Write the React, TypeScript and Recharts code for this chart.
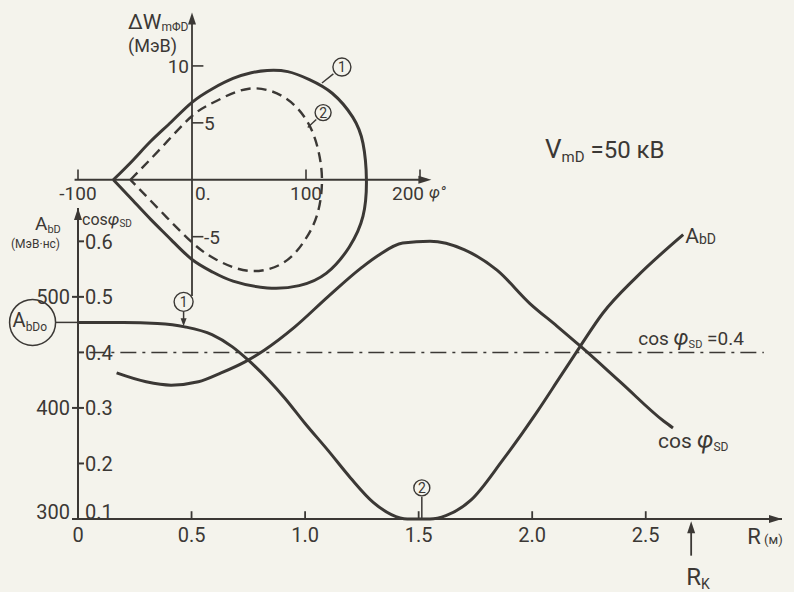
import React from 'react';
import {
  ComposedChart,
  LineChart,
  Line,
  XAxis,
  YAxis,
  ReferenceLine,
  ReferenceDot,
} from 'recharts';

const INK = '#3b3835';
const PAPER = '#f4f3ec';
const FONT = 'Roboto, "DejaVu Sans", Arial, sans-serif';

// A_bD (МэВ·нс) along the radius R (м)
const abdR = [0, 0.2, 0.35, 0.47, 0.59, 0.68, 0.75, 0.84, 0.91, 1.0, 1.1, 1.2, 1.3, 1.38, 1.45, 1.55, 1.62, 1.73, 1.87, 2.02, 2.12, 2.21, 2.31, 2.46, 2.665];
const abdVal = [477, 477, 476, 473, 466, 455, 443, 425, 409, 386, 362, 337, 315, 304, 300, 300, 303, 317, 353, 396, 427, 455, 485, 518, 556];

// cos φ_SD along the radius
const cosR = [0.17, 0.3, 0.41, 0.53, 0.63, 0.735, 0.82, 0.955, 1.1, 1.25, 1.32, 1.43, 1.55, 1.7, 1.845, 1.99, 2.11, 2.21, 2.39, 2.58, 2.62];
const cosVal = [0.363, 0.347, 0.341, 0.347, 0.363, 0.383, 0.404, 0.446, 0.5, 0.553, 0.574, 0.597, 0.6, 0.585, 0.548, 0.488, 0.447, 0.412, 0.346, 0.276, 0.264];

const rTicks = [0, 0.5, 1, 1.5, 2, 2.5];
const aTicks = [300, 400, 500];
const cosTicks = [0.1, 0.2, 0.3, 0.4, 0.5, 0.6];
const cosLevel = 0.4;
const aBdo = 477;
const rK = 2.7;

// phase plane loops ΔW (МэВ) vs φ (deg), traced from the left tip clockwise
const loop1Phi = [-69, -52, -36, -18, 0, 18, 36, 52, 66, 84, 103, 123, 141, 150, 153, 150, 138, 118, 94, 66, 36, 18, 0, -18, -36, -52, -69];
const loop1Dw = [0, 1.7, 3.4, 5.1, 6.8, 8.0, 8.9, 9.4, 9.6, 9.5, 8.8, 7.6, 5.5, 3.2, 0, -3.2, -5.9, -8.2, -9.3, -9.5, -8.9, -8.1, -7.0, -5.3, -3.5, -1.8, 0];
const loop2Phi = [-54, -27, 0, 21, 50, 80, 100, 110, 114, 110, 99, 80, 50, 21, 0, -27, -54];
const loop2Dw = [0, 2.8, 5.6, 6.9, 8.0, 7.3, 5.3, 2.9, 0, -3.0, -5.3, -7.3, -8.0, -7.0, -5.5, -2.8, 0];

const phiTicks = [-100, 100, 200];
const phiLabels = ['-100', '100', '200'];
const dwTicks = [10, 5, -5];
const dwLabels = ['10', '5', '-5'];

const abdData = abdR.map((r, i) => ({ r, a: abdVal[i] }));
const cosData = cosR.map((r, i) => ({ r, c: cosVal[i] }));
const loop1 = loop1Phi.map((phi, i) => ({ phi, dw: loop1Dw[i] }));
const loop2 = loop2Phi.map((phi, i) => ({ phi, dw: loop2Dw[i] }));

type NoteOpts = { anchor?: string; size?: number; italic?: boolean };

function note(content: React.ReactNode, dx: number, dy: number, opts: NoteOpts = {}) {
  return (p: any) => (
    <text
      x={p.cx + dx}
      y={p.cy + dy}
      textAnchor={opts.anchor ?? 'start'}
      fontSize={opts.size ?? 20}
      fontStyle={opts.italic ? 'italic' : 'normal'}
      fill={INK}
      fontFamily={FONT}
    >
      {content}
    </text>
  );
}

function badge(label: string, r = 9) {
  return (p: any) => (
    <g>
      <circle cx={p.cx} cy={p.cy} r={r} fill={PAPER} stroke={INK} strokeWidth={1.4} />
      <text x={p.cx} y={p.cy + 5} textAnchor="middle" fontSize={14} fill={INK} fontFamily={FONT}>
        {label}
      </text>
    </g>
  );
}

const arrowRight = (p: any) => (
  <polygon points={`${p.cx},${p.cy} ${p.cx - 13},${p.cy - 4} ${p.cx - 13},${p.cy + 4}`} fill={INK} />
);
const arrowUp = (p: any) => (
  <polygon points={`${p.cx},${p.cy} ${p.cx - 4},${p.cy + 12} ${p.cx + 4},${p.cy + 12}`} fill={INK} />
);
const arrowDown = (p: any) => (
  <polygon points={`${p.cx},${p.cy} ${p.cx - 3},${p.cy - 8} ${p.cx + 3},${p.cy - 8}`} fill={INK} />
);

const bdoMark = (p: any) => (
  <g>
    <circle cx={p.cx} cy={p.cy} r={23} fill="none" stroke={INK} strokeWidth={1.5} />
    <text x={p.cx - 20} y={p.cy + 5} fontSize={20} fill={INK} fontFamily={FONT}>
      A<tspan fontSize={12} dy={4}>bDo</tspan>
    </text>
  </g>
);

const yTick = (fmt: (v: number) => string, lift: number) => (p: any) => (
  <text
    x={p.x}
    y={p.y + (p.payload.value === lift ? -7 : 0)}
    dy="0.36em"
    textAnchor={p.textAnchor}
    fill={INK}
    fontSize={20}
    fontFamily={FONT}
  >
    {fmt(p.payload.value)}
  </text>
);

const axisStyle = { stroke: INK, strokeWidth: 2 };

function MainChart() {
  return (
    <ComposedChart width={794} height={592} margin={{ top: 208, right: 12, bottom: 43, left: 18 }}>
      <XAxis
        type="number"
        dataKey="r"
        domain={[0, 3.1]}
        ticks={rTicks}
        height={30}
        tickLine={false}
        tickMargin={3}
        axisLine={axisStyle}
        tickFormatter={(v: number) => (v === 0 ? '0' : v.toFixed(1))}
        tick={{ fill: INK, fontSize: 20, fontFamily: FONT }}
      />
      <YAxis
        yAxisId="a"
        type="number"
        domain={[300, 580]}
        ticks={aTicks}
        width={60}
        tickSize={6}
        tickMargin={2}
        axisLine={axisStyle}
        tickLine={axisStyle}
        tick={yTick((v) => String(v), 300)}
      />
      <YAxis
        yAxisId="c"
        type="number"
        domain={[0.1, 0.66]}
        ticks={cosTicks}
        width={40}
        mirror
        tickSize={6}
        tickMargin={1}
        axisLine={false}
        tickLine={axisStyle}
        tick={yTick((v) => v.toFixed(1), 0.1)}
      />

      {/* upward tick marks on the R axis */}
      {rTicks.slice(1).map((r) => (
        <ReferenceLine
          key={`rt${r}`}
          yAxisId="a"
          segment={[{ x: r, y: 300 }, { x: r, y: 307 }]}
          stroke={INK}
          strokeWidth={1.8}
          ifOverflow="visible"
        />
      ))}
      <ReferenceDot yAxisId="a" x={3.1} y={300} ifOverflow="visible" shape={arrowRight} />
      <ReferenceDot yAxisId="a" x={0} y={580} ifOverflow="visible" shape={arrowUp} />
      <ReferenceDot
        yAxisId="a"
        x={2.947}
        y={300}
        ifOverflow="visible"
        shape={note(<>R<tspan fontSize={13}> (м)</tspan></>, 0, 25, { size: 22 })}
      />

      {/* axis captions */}
      <ReferenceDot
        yAxisId="a"
        x={0}
        y={580}
        ifOverflow="visible"
        shape={note(<>A<tspan fontSize={11} dy={3}>bD</tspan></>, -43, 22, { size: 19 })}
      />
      <ReferenceDot yAxisId="a" x={0} y={580} ifOverflow="visible" shape={note('(МэВ·нс)', -67, 40, { size: 12 })} />
      <ReferenceDot
        yAxisId="a"
        x={0}
        y={580}
        ifOverflow="visible"
        shape={note(
          <>
            cos<tspan fontStyle="italic" fontSize={17}>φ</tspan>
            <tspan fontSize={10} dy={2}>SD</tspan>
          </>,
          4,
          17,
          { size: 16 }
        )}
      />

      {/* cos φ_SD = 0.4 level */}
      <ReferenceLine
        yAxisId="c"
        segment={[{ x: 0.05, y: cosLevel }, { x: 3.02, y: cosLevel }]}
        stroke={INK}
        strokeWidth={1.5}
        strokeDasharray="16 6 3 6"
        ifOverflow="visible"
      />
      <ReferenceDot
        yAxisId="c"
        x={2.467}
        y={cosLevel}
        ifOverflow="visible"
        shape={note(
          <>
            cos <tspan fontStyle="italic" fontSize={22}>φ</tspan>
            <tspan fontSize={11} dy={3}>SD</tspan>
            <tspan dy={-3}> =0.4</tspan>
          </>,
          0,
          -7,
          { size: 19 }
        )}
      />

      {/* initial A_bD value */}
      <ReferenceLine
        yAxisId="a"
        segment={[{ x: -0.1, y: aBdo }, { x: 0, y: aBdo }]}
        stroke={INK}
        strokeWidth={1.5}
        ifOverflow="visible"
      />
      <ReferenceDot yAxisId="a" x={-0.2} y={aBdo} ifOverflow="visible" shape={bdoMark} />

      <Line
        yAxisId="a"
        data={abdData}
        dataKey="a"
        type="monotone"
        stroke={INK}
        strokeWidth={3}
        dot={false}
        isAnimationActive={false}
      />
      <Line
        yAxisId="c"
        data={cosData}
        dataKey="c"
        type="monotone"
        stroke={INK}
        strokeWidth={3}
        dot={false}
        isAnimationActive={false}
      />

      <ReferenceDot
        yAxisId="a"
        x={2.665}
        y={556}
        ifOverflow="visible"
        shape={note(<>A<tspan fontSize={14} dy={1}>bD</tspan></>, 2, 8, { size: 21 })}
      />
      <ReferenceDot
        yAxisId="c"
        x={2.62}
        y={0.264}
        ifOverflow="visible"
        shape={note(
          <>
            cos <tspan fontStyle="italic" fontSize={24}>φ</tspan>
            <tspan fontSize={12} dy={3}>SD</tspan>
          </>,
          -15,
          20,
          { size: 21 }
        )}
      />

      {/* markers (1) and (2) */}
      <ReferenceLine
        yAxisId="a"
        segment={[{ x: 0.465, y: 486.5 }, { x: 0.465, y: 478 }]}
        stroke={INK}
        strokeWidth={1.5}
        ifOverflow="visible"
      />
      <ReferenceDot yAxisId="a" x={0.465} y={473.5} ifOverflow="visible" shape={arrowDown} />
      <ReferenceDot yAxisId="a" x={0.465} y={495.5} ifOverflow="visible" shape={badge('1', 9.5)} />
      <ReferenceLine
        yAxisId="a"
        segment={[{ x: 1.514, y: 320 }, { x: 1.514, y: 300 }]}
        stroke={INK}
        strokeWidth={1.5}
        ifOverflow="visible"
      />
      <ReferenceDot yAxisId="a" x={1.514} y={328} ifOverflow="visible" shape={badge('2', 8)} />

      {/* R_K pointer below the axis */}
      <ReferenceLine
        yAxisId="a"
        segment={[{ x: rK, y: 267 }, { x: rK, y: 292 }]}
        stroke={INK}
        strokeWidth={1.8}
        ifOverflow="visible"
      />
      <ReferenceDot yAxisId="a" x={rK} y={298} ifOverflow="visible" shape={arrowUp} />
      <ReferenceDot
        yAxisId="a"
        x={rK}
        y={300}
        ifOverflow="visible"
        shape={note(<>R<tspan fontSize={14} dy={4}>K</tspan></>, -5, 66, { size: 24 })}
      />
    </ComposedChart>
  );
}

function PhaseInset() {
  return (
    <LineChart width={794} height={592} margin={{ top: 9, right: 374, bottom: 287, left: 78 }}>
      <XAxis type="number" dataKey="phi" domain={[-100, 200]} hide height={0} />
      <YAxis type="number" domain={[-11, 15]} hide width={0} />

      <ReferenceLine segment={[{ x: -103, y: 0 }, { x: 206, y: 0 }]} stroke={INK} strokeWidth={1.8} ifOverflow="visible" />
      <ReferenceDot x={210} y={0} ifOverflow="visible" shape={arrowRight} />
      <ReferenceLine segment={[{ x: 0, y: -10.2 }, { x: 0, y: 14 }]} stroke={INK} strokeWidth={1.8} ifOverflow="visible" />
      <ReferenceDot x={0} y={14.7} ifOverflow="visible" shape={arrowUp} />

      {phiTicks.map((v, i) => (
        <React.Fragment key={`pt${v}`}>
          <ReferenceLine segment={[{ x: v, y: 0 }, { x: v, y: 0.9 }]} stroke={INK} strokeWidth={1.6} ifOverflow="visible" />
          <ReferenceDot x={v} y={0} ifOverflow="visible" shape={note(phiLabels[i], v === 200 ? -12 : 0, 20, { anchor: 'middle', size: 19 })} />
        </React.Fragment>
      ))}
      <ReferenceDot x={0} y={0} ifOverflow="visible" shape={note('0.', 3, 20, { size: 19 })} />
      <ReferenceDot x={200} y={0} ifOverflow="visible" shape={note('φ°', 9, 18, { size: 16, italic: true })} />

      {dwTicks.map((v, i) => (
        <React.Fragment key={`dt${v}`}>
          <ReferenceLine segment={[{ x: 0, y: v }, { x: 10, y: v }]} stroke={INK} strokeWidth={1.6} ifOverflow="visible" />
          <ReferenceDot
            x={0}
            y={v}
            ifOverflow="visible"
            shape={note(dwLabels[i], v === 10 ? -3 : 12, 7, { anchor: v === 10 ? 'end' : 'start', size: 19 })}
          />
        </React.Fragment>
      ))}

      <ReferenceDot
        x={0}
        y={14.7}
        ifOverflow="visible"
        shape={note(<>ΔW<tspan fontSize={12} dy={2}>mΦD</tspan></>, -64, 17, { size: 21 })}
      />
      <ReferenceDot x={0} y={14.7} ifOverflow="visible" shape={note('(МэВ)', -64, 40, { size: 18 })} />

      <Line data={loop1} dataKey="dw" type="natural" stroke={INK} strokeWidth={3} dot={false} isAnimationActive={false} />
      <Line
        data={loop2}
        dataKey="dw"
        type="natural"
        stroke={INK}
        strokeWidth={2.4}
        strokeDasharray="10 6"
        dot={false}
        isAnimationActive={false}
      />

      <ReferenceLine segment={[{ x: 124, y: 9.3 }, { x: 114, y: 8.5 }]} stroke={INK} strokeWidth={1.4} ifOverflow="visible" />
      <ReferenceDot x={131.5} y={9.9} ifOverflow="visible" shape={badge('1', 9)} />
      <ReferenceLine segment={[{ x: 109, y: 5.3 }, { x: 101.5, y: 4.6 }]} stroke={INK} strokeWidth={1.4} ifOverflow="visible" />
      <ReferenceDot x={115} y={5.9} ifOverflow="visible" shape={badge('2', 8)} />
    </LineChart>
  );
}

export default function App() {
  return (
    <div
      style={{
        position: 'absolute',
        left: 0,
        top: 0,
        width: 794,
        height: 592,
        background: PAPER,
        fontFamily: FONT,
        color: INK,
        overflow: 'hidden',
      }}
    >
      <div style={{ position: 'absolute', left: 0, top: 0 }}>
        <MainChart />
      </div>
      <div style={{ position: 'absolute', left: 0, top: 0 }}>
        <PhaseInset />
      </div>
      <div style={{ position: 'absolute', left: 545, top: 136, whiteSpace: 'nowrap', lineHeight: 1 }}>
        <span style={{ fontSize: 26 }}>V</span>
        <span style={{ fontSize: 15, position: 'relative', top: 4 }}>mD</span>
        <span style={{ fontSize: 24 }}> =50 кВ</span>
      </div>
    </div>
  );
}
